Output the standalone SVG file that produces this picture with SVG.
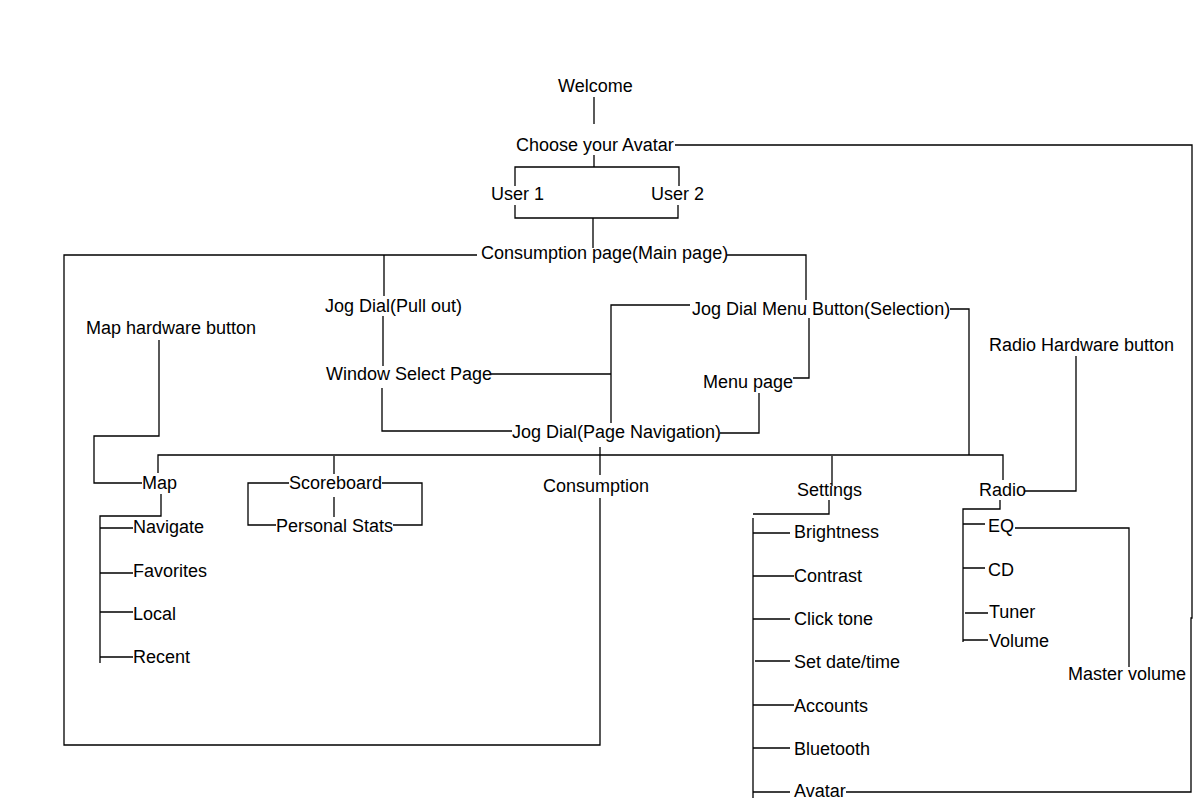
<svg xmlns="http://www.w3.org/2000/svg" width="1200" height="800" viewBox="0 0 1200 800">
<style>
text{font-family:"Liberation Sans",Arial,sans-serif;font-size:18px;fill:#000}
.c path{fill:none;stroke:#000;stroke-width:1.3}
</style>
<rect width="1200" height="800" fill="#fff"/>
<g class="c" id="connectors">
<path d="M594 97V124"/>
<path d="M675 145H1192V618H1191V792H846"/>
<path d="M594 155V167M515 186V167H679V186"/>
<path d="M515 205V218H678V205M593 218V248"/>
<path d="M477 255H64V745H600V498M600 447V475"/>
<path d="M727 255H806V300"/>
<path d="M384 255V296M383 316V366"/>
<path d="M491 374H611M611 423V305H690"/>
<path d="M382 388V431H512"/>
<path d="M720 433H759V393"/>
<path d="M793 378H809V318"/>
<path d="M950 309H969V455"/>
<path d="M158 473V455H1003V480"/>
<path d="M334 456V474M334 497V517"/>
<path d="M832 456V486"/>
<path d="M829 500V514H753M753 518V798"/>
<path d="M753 533H790M753 576H794M753 619H790M755 661H790M753 705H794M753 748H790M753 792H790"/>
<path d="M159 340V436H94V483H142"/>
<path d="M161 494V516H100V663"/>
<path d="M100 528H133M100 573H133M100 612H133M100 657H133"/>
<path d="M289 483H248V525H276M382 483H422V525H393"/>
<path d="M1076 356V491H1025"/>
<path d="M1000 500V509H963V642"/>
<path d="M963 524H985M963 568H985M965 613H988M963 640H988"/>
<path d="M1015 528H1129V667"/>
</g>
<g id="welcome"><text x="558" y="92">Welcome</text></g>
<g id="choose-avatar"><text x="516" y="151">Choose your Avatar</text></g>
<g id="user1"><text x="491" y="200">User 1</text></g>
<g id="user2"><text x="651" y="200">User 2</text></g>
<g id="consumption-page"><text x="481" y="259">Consumption page(Main page)</text></g>
<g id="jog-pull"><text x="325" y="312">Jog Dial(Pull out)</text></g>
<g id="jog-menu"><text x="692" y="315">Jog Dial Menu Button(Selection)</text></g>
<g id="window-select"><text x="326" y="380">Window Select Page</text></g>
<g id="menu-page"><text x="703" y="388">Menu page</text></g>
<g id="jog-nav"><text x="512" y="438">Jog Dial(Page Navigation)</text></g>
<g id="map-hw"><text x="86" y="334">Map hardware button</text></g>
<g id="radio-hw"><text x="989" y="351">Radio Hardware button</text></g>
<g id="map"><text x="142" y="489">Map</text></g>
<g id="scoreboard"><text x="289" y="489">Scoreboard</text></g>
<g id="personal-stats"><text x="276" y="532">Personal Stats</text></g>
<g id="consumption"><text x="543" y="492">Consumption</text></g>
<g id="settings"><text x="797" y="496">Settings</text></g>
<g id="radio"><text x="979" y="496">Radio</text></g>
<g id="navigate"><text x="133" y="533">Navigate</text></g>
<g id="favorites"><text x="133" y="577">Favorites</text></g>
<g id="local"><text x="133" y="620">Local</text></g>
<g id="recent"><text x="133" y="663">Recent</text></g>
<g id="brightness"><text x="794" y="538">Brightness</text></g>
<g id="contrast"><text x="794" y="582">Contrast</text></g>
<g id="click-tone"><text x="794" y="625">Click tone</text></g>
<g id="set-date"><text x="794" y="668">Set date/time</text></g>
<g id="accounts"><text x="794" y="712">Accounts</text></g>
<g id="bluetooth"><text x="794" y="755">Bluetooth</text></g>
<g id="avatar"><text x="794" y="797">Avatar</text></g>
<g id="eq"><text x="988" y="532">EQ</text></g>
<g id="cd"><text x="988" y="576">CD</text></g>
<g id="tuner"><text x="989" y="618">Tuner</text></g>
<g id="volume"><text x="989" y="647">Volume</text></g>
<g id="master-volume"><text x="1068" y="680">Master volume</text></g>
</svg>
